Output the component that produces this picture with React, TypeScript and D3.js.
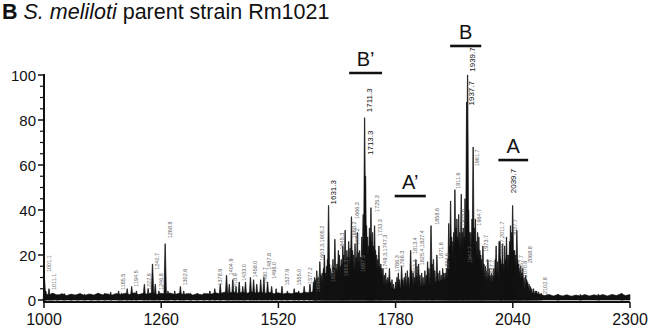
import React from "react";
import * as d3 from "d3";

const W = 649;
const H = 331;

const xTicks = [1000, 1260, 1520, 1780, 2040, 2300];
const yMajor = [0, 20, 40, 60, 80, 100];
const yMinor = [5, 10, 15, 25, 30, 35, 45, 50, 55, 65, 70, 75, 85, 90, 95];

// [m/z, relative intensity %]
const peaks: [number, number][] = [
  [1001.1, 9], [1004, 4], [1011.1, 5], [1018, 3], [1030, 2.5], [1045, 2.8], [1060, 2.5],
  [1075, 2.2], [1090, 2.6], [1105, 2.5], [1120, 3], [1135, 3], [1148, 3.5], [1165.5, 4],
  [1172, 3], [1184.5, 5], [1194.5, 6], [1205, 4], [1222.6, 7], [1231, 5], [1240.7, 16],
  [1246.8, 7], [1255, 4], [1268.8, 25], [1275, 4], [1290, 4], [1302.6, 6], [1310, 4],
  [1325, 3], [1340, 3], [1355, 3], [1368, 4], [1378.9, 5], [1391, 7], [1404.9, 11],
  [1411, 7], [1418.9, 9], [1426, 6], [1433, 8], [1441, 6], [1447, 8], [1458, 10],
  [1465, 9], [1472, 7], [1480.7, 9], [1487.8, 10], [1496, 8], [1505, 6], [1515, 5],
  [1527.9, 6], [1540, 4], [1555, 5], [1565, 4], [1577.2, 6], [1590, 7],
  [1598, 8], [1600.3, 10], [1603, 9], [1605.2, 13], [1608, 10], [1612, 17], [1614.5, 11],
  [1617, 12], [1620, 14], [1622, 20], [1625, 12], [1627, 15], [1629, 18], [1631.3, 42],
  [1633.5, 16], [1636, 14], [1638.5, 12], [1641, 18], [1643, 15], [1645.3, 27], [1648, 14],
  [1650, 16], [1653, 22], [1655, 20], [1657, 15], [1659.3, 18], [1661, 16], [1663, 24],
  [1665, 20], [1668, 31], [1670, 18], [1672, 22], [1674, 19], [1676, 26], [1679, 23],
  [1682, 37], [1684.5, 22], [1687, 20], [1690, 25], [1692.5, 19], [1695, 30], [1697.5, 21],
  [1700, 22], [1702.5, 19], [1705, 28], [1708, 38], [1711.3, 81], [1713.3, 55], [1715.5, 33],
  [1718, 28], [1720, 24], [1722, 32], [1724, 29], [1725.3, 41], [1727, 26], [1729, 30],
  [1731, 24], [1733.3, 33], [1735.5, 22], [1738, 20], [1740.5, 18], [1743, 24], [1745, 15],
  [1747.3, 16], [1749.3, 14], [1752, 14], [1755, 11], [1758, 12], [1761, 9], [1763, 10],
  [1766.3, 14], [1769, 8], [1772, 9], [1775, 7], [1780, 8],
  [1783, 10], [1786, 12], [1789, 9], [1793.4, 15], [1796, 9], [1799, 10], [1802, 12],
  [1806, 13], [1809, 10], [1813.4, 22], [1816, 13], [1819, 12], [1822, 10], [1825, 18],
  [1827.4, 15], [1831, 16], [1834, 11], [1838, 12], [1841, 10], [1845, 13], [1848, 11],
  [1851, 17], [1854, 14], [1858.6, 33], [1861, 16], [1864, 18], [1867, 13], [1871.6, 20],
  [1874, 12], [1878, 13], [1881, 11], [1884.6, 14], [1887, 12], [1890, 12], [1893, 14],
  [1896, 18], [1898, 34], [1900, 24], [1902, 44], [1904.5, 28], [1907, 26], [1909, 30],
  [1911.6, 49], [1914, 32], [1916, 36], [1918, 28], [1920, 38], [1922.5, 30], [1925.6, 47],
  [1928, 30], [1930, 32], [1932, 28], [1934, 45], [1937.7, 88], [1939.7, 100], [1942, 40],
  [1944, 30], [1947, 30], [1949.5, 36], [1952, 68], [1954.5, 32], [1957, 36], [1959.5, 26],
  [1962, 30], [1964.7, 28], [1967, 22], [1969, 20], [1971, 18], [1973.7, 24], [1976, 16],
  [1979, 15], [1981.5, 13], [1984.7, 18], [1987.7, 14], [1990, 11], [1993, 12], [1996, 11],
  [1998, 14], [2001, 18], [2003, 24], [2006, 17], [2009.7, 26], [2011.5, 26], [2013, 18],
  [2015, 16], [2017, 25], [2019.5, 16], [2022, 24], [2024, 18], [2026, 28], [2029, 20],
  [2031, 20], [2033, 26], [2035, 33], [2037.7, 30], [2039.7, 42], [2042, 22], [2044, 22],
  [2046, 20], [2049, 31], [2051, 18], [2053, 16], [2055, 14], [2057.7, 15], [2060, 12],
  [2062, 14], [2065, 10], [2068.8, 11], [2071, 9], [2073, 8], [2076, 7], [2079, 6],
  [2082, 5], [2086, 5], [2090, 4], [2093, 4], [2097, 3.5], [2102.8, 3],
  [2140, 2.5], [2190, 2.5], [2230, 2.6], [2282, 3]
];

// unresolved hump under the dense clusters
const hump: [number, number][] = [
  [1560, 1], [1600, 4], [1650, 8], [1700, 10], [1730, 8], [1760, 5], [1800, 5],
  [1850, 7], [1900, 10], [1940, 12], [1980, 8], [2020, 8], [2050, 5], [2080, 2], [2110, 0.5]
];

// baseline noise band
const noise: [number, number][] = [
  [1000, 3], [1010, 2.2], [1020, 3], [1030, 2.1], [1040, 2.8], [1050, 2], [1060, 2.6],
  [1070, 2.2], [1080, 2.9], [1090, 2], [1100, 2.7], [1110, 2.2], [1120, 3], [1130, 2.3],
  [1140, 2.8], [1150, 2.1], [1160, 2.9], [1170, 2.4], [1180, 3], [1190, 2.5], [1200, 3.2],
  [1210, 2.4], [1220, 3], [1230, 2.6], [1240, 3.3], [1250, 2.5], [1260, 3], [1270, 2.6],
  [1280, 3.1], [1290, 2.4], [1300, 3], [1310, 2.5], [1320, 2.9], [1330, 2.2], [1340, 2.8],
  [1350, 2.3], [1360, 2.9], [1370, 2.6], [1380, 3.2], [1390, 2.8], [1400, 3.5], [1410, 3],
  [1420, 3.6], [1430, 3], [1440, 3.5], [1450, 3], [1460, 3.6], [1470, 3.1], [1480, 3.5],
  [1490, 3], [1500, 3.4], [1510, 2.8], [1520, 3.2], [1530, 2.7], [1540, 3.1], [1550, 2.8],
  [1560, 3.3], [1570, 3], [1580, 3.5], [1590, 3.2], [1600, 3.8], [1620, 4], [1640, 4.2],
  [1660, 4.5], [1680, 4.6], [1700, 4.8], [1720, 4.6], [1740, 4.2], [1760, 3.8], [1780, 3.6],
  [1800, 3.8], [1820, 4], [1840, 4], [1860, 4.2], [1880, 4.2], [1900, 4.6], [1920, 4.8],
  [1940, 5], [1960, 4.8], [1980, 4.4], [2000, 4.2], [2020, 4.2], [2040, 4.4], [2060, 3.6],
  [2080, 3], [2100, 2.6], [2110, 2], [2120, 2.5], [2130, 1.8], [2140, 2.4], [2150, 1.8],
  [2160, 2.3], [2170, 1.7], [2180, 2.2], [2190, 1.8], [2200, 2.4], [2210, 1.8], [2220, 2.3],
  [2230, 1.9], [2240, 2.4], [2250, 1.8], [2260, 2.5], [2270, 2], [2280, 2.8], [2290, 2],
  [2300, 2.4]
];

// large peak labels: [text, anchor m/z, intensity at label foot]
const bigLabels: [string, number, number][] = [
  ["1631.3", 1631.3, 42], ["1711.3", 1711.3, 83], ["1713.3", 1713.3, 64],
  ["1937.7", 1937.7, 86], ["1939.7", 1939.7, 101], ["2039.7", 2031, 47]
];

// small peak labels
const smallLabels: [string, number, number][] = [
  ["1001.1", 1001.1, 12], ["1011.1", 1011.1, 4], ["1165.5", 1165.5, 4], ["1194.5", 1194.5, 5.5],
  ["1222.6", 1222.6, 4], ["1240.7", 1240.7, 13], ["1246.8", 1250, 4], ["1268.8", 1268.8, 27],
  ["1302.6", 1302.6, 6], ["1378.9", 1380, 6], ["1404.9", 1404.9, 10.5], ["1418.9", 1414, 4],
  ["1433.0", 1433, 8], ["1458.0", 1458, 9.6], ["1480.7", 1480.7, 6.7], ["1487.8", 1489, 13],
  ["1496.0", 1500, 9], ["1527.9", 1529, 6], ["1555.0", 1555, 6], ["1577.2", 1580, 6.7],
  ["1600.3", 1598, 3], ["1603.3,1605.2", 1606.7, 17], ["1626.3", 1631, 7.5], ["1645.3", 1651, 22],
  ["1659.3", 1660, 10], ["1666.3", 1685, 35.6], ["1668.2", 1677, 27], ["1682.2", 1684, 24],
  ["1697.3", 1697.6, 12], ["1725.3", 1728.7, 38.7], ["1733.3", 1735.3, 28],
  ["1749.3,1747.3", 1746.4, 13], ["1766.3", 1784, 14], ["1786.3", 1773, 12],
  ["1813.4", 1813, 20], ["1802.3", 1813, 10], ["1825.4,1827.4", 1828.5, 15],
  ["1858.6", 1861.8, 33], ["1871.6", 1870.7, 17.8], ["1884.6", 1884, 13],
  ["1911.6", 1908.4, 49], ["1925.6", 1919.5, 32.6], ["1947.7", 1935, 16],
  ["1961.7", 1950.5, 59], ["1964.7", 1955, 32.6], ["1973.7", 1970.5, 21],
  ["1984.7", 1975.4, 10], ["1987.7", 1983.4, 10], ["2009.7,2011.7", 2006, 19],
  ["2037.7", 2034.8, 28], ["2057.7", 2048.1, 12], ["2070.8", 2058.1, 9.6],
  ["2068.8", 2068.1, 16], ["2102.8", 2102.5, 2.2]
];

// region brackets: [label, from m/z, to m/z, intensity level of bar]
const brackets: [string, number, number, number][] = [
  ["B\u2019", 1677, 1750, 100.9], ["B", 1901, 1970, 112.9],
  ["A\u2019", 1778, 1847, 46.2], ["A", 2008, 2074, 62.2]
];

const FONT = "'Liberation Sans', Arial, Helvetica, sans-serif";

export default function App() {
  const x = d3.scaleLinear().domain([1000, 2300]).range([44, 630]);
  const y = d3.scaleLinear().domain([0, 100]).range([300, 75]);

  const w = 3;
  const peakPath = peaks
    .map(([m, v]) => {
      return `M${x(m - w)},${y(0)}L${x(m - 0.35)},${y(v)}L${x(m + 0.35)},${y(v)}L${x(m + w)},${y(0)}Z`;
    })
    .join("");

  const area = d3
    .area<[number, number]>()
    .x((d) => x(d[0]))
    .y0(y(0))
    .y1((d) => y(d[1]));
  const humpArea = d3
    .area<[number, number]>()
    .x((d) => x(d[0]))
    .y0(y(0))
    .y1((d) => y(d[1]))
    .curve(d3.curveMonotoneX);

  return (
    <svg
      width={W}
      height={H}
      viewBox={`0 0 ${W} ${H}`}
      style={{ position: "absolute", left: 0, top: 0, background: "#fff" }}
      fontFamily={FONT}
    >
      <rect x={0} y={0} width={W} height={H} fill="#fff" />
      <text x={2} y={19} fontSize={21.5} fill="#111" style={{ whiteSpace: "pre" }}>
        <tspan fontWeight="bold">B</tspan>
        <tspan fontStyle="italic"> S. meliloti</tspan>
        <tspan> parent strain Rm1021</tspan>
      </text>

      {/* spectrum */}
      <path d={humpArea(hump) || ""} fill="#111" />
      <path d={area(noise) || ""} fill="#111" stroke="#111" strokeWidth={0.6} />
      <path d={peakPath} fill="#111" stroke="#111" strokeWidth={0.7} strokeLinejoin="round" />

      {/* axes */}
      <line x1={x(1000)} x2={x(2300)} y1={302} y2={302} stroke="#111" strokeWidth={2} />
      <line x1={x(1000)} x2={x(1000)} y1={y(100) - 1} y2={303} stroke="#111" strokeWidth={2} />
      {xTicks.map((t) => (
        <g key={"xt" + t}>
          <line x1={x(t)} x2={x(t)} y1={302} y2={308} stroke="#111" strokeWidth={1.5} />
          <text x={x(t)} y={325} fontSize={16} textAnchor="middle" fill="#111">
            {t}
          </text>
        </g>
      ))}
      {yMajor.map((t) => (
        <g key={"yt" + t}>
          <line x1={x(1000) - 6} x2={x(1000)} y1={y(t)} y2={y(t)} stroke="#111" strokeWidth={1.5} />
          <text x={36} y={y(t) + 5.5} fontSize={15} textAnchor="end" fill="#111">
            {t}
          </text>
        </g>
      ))}
      {yMinor.map((t) => (
        <line key={"ym" + t} x1={x(1000) - 4} x2={x(1000)} y1={y(t)} y2={y(t)} stroke="#111" strokeWidth={1.2} />
      ))}

      {/* peak labels */}
      {bigLabels.map(([txt, m, lv]) => (
        <text
          key={"bl" + txt}
          transform={`translate(${x(m) + 7},${y(lv) - 1}) rotate(-90)`}
          fontSize={8}
          fill="#111"
        >
          {txt}
        </text>
      ))}
      {smallLabels.map(([txt, m, lv], i) => (
        <text
          key={"sl" + i}
          transform={`translate(${x(m) + 6.5},${y(lv) - 1}) rotate(-90)`}
          fontSize={5.5}
          fill="#666"
        >
          {txt}
        </text>
      ))}

      {/* region brackets */}
      {brackets.map(([lab, a, b, lv]) => (
        <g key={"br" + lab}>
          <line x1={x(a)} x2={x(b)} y1={y(lv)} y2={y(lv)} stroke="#111" strokeWidth={2.6} />
          <text x={(x(a) + x(b)) / 2} y={y(lv) - 7} fontSize={20} textAnchor="middle" fill="#111">
            {lab}
          </text>
        </g>
      ))}
    </svg>
  );
}
